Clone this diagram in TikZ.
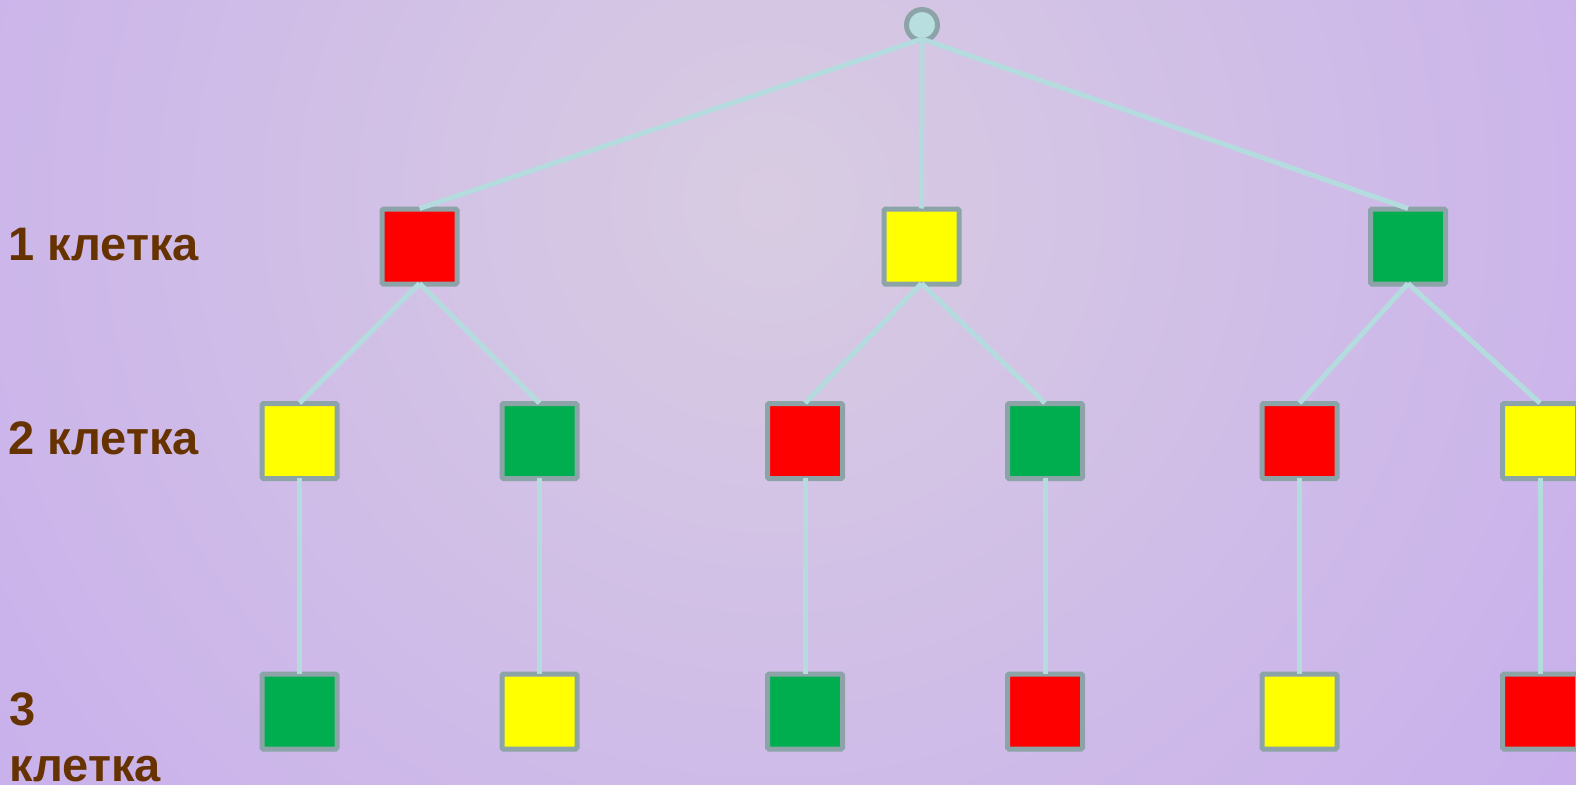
\documentclass[tikz,border=0pt]{standalone}
\usepackage{fontspec}
\setmainfont{Liberation Sans}
\usepackage{xcolor}
\usepackage{tikz}

\definecolor{bgin}{HTML}{D8CCE2}
\definecolor{bgout}{HTML}{C2A4F0}
\definecolor{rim}{HTML}{8CA4A8}
\definecolor{wire}{HTML}{B4DCDE}
\definecolor{cred}{HTML}{FF0000}
\definecolor{cyel}{HTML}{FFFF00}
\definecolor{cgrn}{HTML}{00AE4F}
\definecolor{brown}{HTML}{663300}

\tikzset{
    cell/.style={draw=rim, line width=5pt, rectangle, rounded corners=1.5pt,
        minimum size=75pt, inner sep=0pt},
    link/.style={draw=wire, line width=5pt},
    level/.style={text=brown, inner sep=0pt, align=left,
        font={\fontsize{47}{56}\selectfont\bfseries}}
}

\begin{document}
\begin{tikzpicture}[x=1pt, y=-1pt]
        \useasboundingbox (0,0) rectangle (1576,784);
        % background
        \begin{scope}
            \clip (0,0) rectangle (1576,784);
            \shade[inner color=bgin, outer color=bgout] (770,200) circle (1400);
        \end{scope}

        % level labels
        \node[level, anchor=base west] (lab1) at (8,260) {1 клетка};
        \node[level, anchor=base west] (lab2) at (8,454) {2 клетка};
        \node[level, anchor=north west] (lab3) at (9,692.5) {3\\клетка};

        % root
        \node[draw=rim, line width=5pt, circle, fill=wire!95!white, minimum size=31pt,
            inner sep=0pt] (root) at (922,25) {};

        % first cell
        \node[cell, fill=cred] (a1) at (419.5,246.5) {};
        \node[cell, fill=cyel] (a2) at (921.5,246.5) {};
        \node[cell, fill=cgrn] (a3) at (1408,246.5) {};

        % second cell
        \node[cell, fill=cyel] (b1) at (299.5,441) {};
        \node[cell, fill=cgrn] (b2) at (539.5,441) {};
        \node[cell, fill=cred] (b3) at (805,441) {};
        \node[cell, fill=cgrn] (b4) at (1045,441) {};
        \node[cell, fill=cred] (b5) at (1299.5,441) {};
        \node[cell, fill=cyel] (b6) at (1540,441) {};

        % third cell
        \node[cell, fill=cgrn] (c1) at (299.5,711.5) {};
        \node[cell, fill=cyel] (c2) at (539.5,711.5) {};
        \node[cell, fill=cgrn] (c3) at (805,711.5) {};
        \node[cell, fill=cred] (c4) at (1045,711.5) {};
        \node[cell, fill=cyel] (c5) at (1299.5,711.5) {};
        \node[cell, fill=cred] (c6) at (1540,711.5) {};

        % branches
        \foreach \a in {1,2,3}
            \draw[link] ([yshift=4pt]root.south) -- ([yshift=-2pt]a\a.north);
        \draw[link] ([yshift=3pt]a1.south) -- ([yshift=-2pt]b1.north);
        \draw[link] ([yshift=3pt]a1.south) -- ([yshift=-2pt]b2.north);
        \draw[link] ([yshift=3pt]a2.south) -- ([yshift=-2pt]b3.north);
        \draw[link] ([yshift=3pt]a2.south) -- ([yshift=-2pt]b4.north);
        \draw[link] ([yshift=3pt]a3.south) -- ([yshift=-2pt]b5.north);
        \draw[link] ([yshift=3pt]a3.south) -- ([yshift=-2pt]b6.north);
        \foreach \b in {1,...,6}
            \draw[link] ([yshift=3pt]b\b.south) -- ([yshift=-2pt]c\b.north);
    \end{tikzpicture}
\end{document}
